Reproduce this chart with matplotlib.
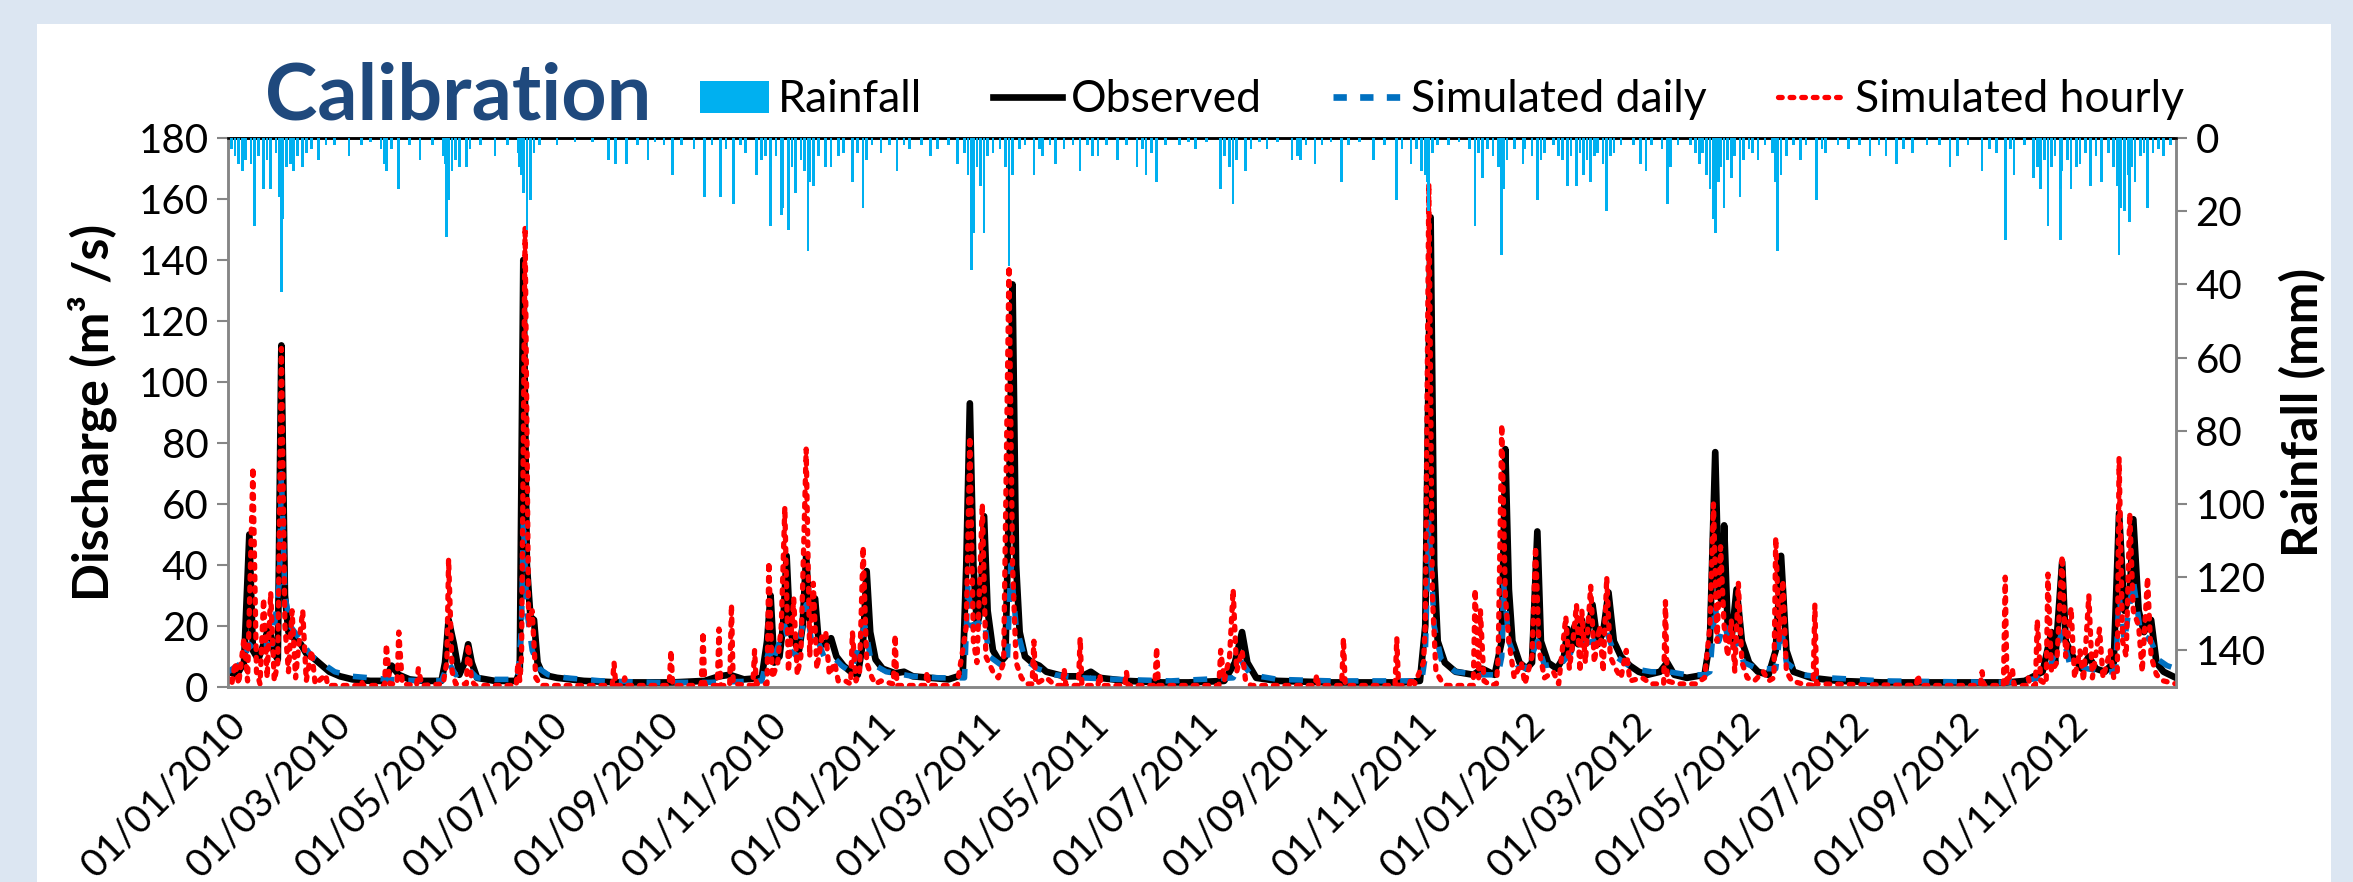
import matplotlib
matplotlib.use("Agg")
import matplotlib.pyplot as plt
import matplotlib.dates as mdates
import pandas as pd
from matplotlib.patches import Patch, Rectangle
from matplotlib.lines import Line2D

# days counted from 01/01/2010
START = "2010-01-01"

obs_day = [0, 5, 9, 12, 14, 17, 20, 23, 26, 28, 30, 32, 34, 37, 41, 44, 48, 52, 57, 63,
           70, 80, 88, 92, 96, 102, 110, 120, 122, 124, 127, 130, 133, 135, 137, 140, 150, 162, 164, 166,
           168, 170, 172, 174, 177, 185, 200, 220, 250, 268, 276, 282, 290, 300, 303, 305, 307, 310, 312, 314,
           316, 318, 321, 323, 325, 327, 330, 332, 335, 339, 342, 346, 350, 354, 357, 359, 361, 364,
           368, 375, 380, 385, 395, 405, 413, 415, 417, 419, 421, 423, 425, 427, 430, 434, 437, 439, 441, 443,
           445, 448, 452, 456, 460, 470, 480, 485, 490, 505, 525, 540, 560, 566, 570, 573, 578, 590, 620, 660,
           670, 673, 676, 678, 680, 684, 690, 700, 705, 712, 716, 718, 720, 722, 726, 730,
           733, 736, 738, 742, 747, 751, 753, 755, 757, 759, 761, 763, 765, 767, 770, 773, 776, 779, 783, 788,
           793, 798, 805, 809, 813, 820, 830, 833, 836, 838, 840, 841, 843, 845, 848, 851, 855, 860, 866, 870,
           873, 876, 880, 890, 905, 930, 970, 1000, 1010, 1020, 1025, 1027, 1031, 1033, 1037, 1042, 1046, 1050, 1055, 1060,
           1063, 1066, 1069, 1071, 1074, 1077, 1081, 1084, 1088, 1095]
obs_q = [5, 4, 8, 50, 12, 9, 14, 20, 11, 9, 112, 30, 18, 16, 14, 11, 9.5, 7.5, 5, 3.5,
         2.5, 2, 2, 7, 4, 2.5, 2, 2, 8, 22, 14, 4, 8, 14, 8, 3, 2, 2, 5, 140,
         40, 23, 22, 8, 4, 3, 2, 1.5, 1.5, 2, 3.5, 4, 2.5, 3, 15, 30, 8, 10, 20, 43,
         18, 15, 12, 20, 43, 22, 29, 15, 14, 16, 10, 7, 5, 4, 15, 38, 18, 9,
         6, 4.5, 5, 3.5, 3, 2.5, 4, 40, 93, 40, 20, 25, 56, 25, 12, 8, 10, 60, 132, 40,
         18, 10, 8, 7, 5, 3.5, 3.5, 5, 3, 2, 1.5, 1.5, 2, 8, 18, 8, 3, 2, 1.5, 1.5,
         2, 20, 154, 40, 15, 8, 5, 4, 6, 4, 15, 78, 32, 15, 8, 6,
         8, 51, 15, 8, 6, 10, 19, 12, 20, 14, 22, 15, 20, 27, 14, 18, 31, 15, 10, 7,
         5, 4, 5, 8, 4, 3, 4, 15, 77, 30, 28, 53, 20, 15, 32, 15, 8, 5, 4, 12,
         43, 12, 5, 3, 2, 1.5, 1.5, 1.5, 2, 5, 18, 8, 41, 15, 10, 6, 10, 6, 5, 8,
         57, 25, 30, 55, 25, 18, 22, 8, 5, 3]

simd_day = [0, 8, 12, 15, 20, 25, 29, 30, 32, 35, 40, 47, 55, 60, 70, 80, 90, 100, 120, 124,
            128, 135, 140, 150, 163, 165, 166, 168, 171, 175, 180, 190, 210, 240, 270, 300, 304, 306, 313, 316,
            320, 325, 328, 331, 335, 340, 345, 350, 358, 361, 364,
            370, 385, 400, 410, 414, 416, 418, 425, 428, 435, 438, 440, 443, 448, 455, 465, 480, 500, 530, 565,
            570, 575, 590, 620, 660, 671, 673, 675, 678, 682, 690, 705, 714, 716, 717, 720, 725, 730,
            736, 740, 750, 756, 762, 767, 775, 780, 790, 800, 810, 820, 830, 833, 836, 838, 841, 845, 848, 852,
            860, 870, 873, 876, 885, 900, 930, 1000, 1020, 1025, 1031, 1035, 1045, 1055, 1061, 1063, 1066, 1071, 1075, 1081,
            1085, 1090, 1095]
simd_q = [5, 8, 14, 12, 14, 14, 35, 70, 30, 20, 16, 10, 7, 5, 3.5, 3, 2.5, 2.2, 2, 8,
          4, 6, 3, 2.5, 2.5, 20, 55, 25, 12, 6, 4, 3, 2, 1.5, 1.5, 2, 12, 8, 20, 12,
          10, 27, 15, 16, 10, 10, 7, 5, 20, 10, 7,
          5, 3.5, 3, 3, 3, 34, 20, 22, 10, 7, 7, 40, 20, 9, 6, 4, 3, 2.5, 2, 3,
          8, 4, 2.5, 2, 2, 2, 10, 54, 20, 9, 5, 4, 4, 10, 34, 15, 7, 6,
          15, 7, 8, 12, 14, 15, 18, 10, 6, 5, 5, 4, 4, 5, 27, 15, 21, 12, 15, 8,
          6, 6, 20, 8, 4, 3, 2, 1.5, 3, 8, 18, 8, 6, 5, 5, 30, 15, 35, 18, 15,
          9, 7, 6]

simh_day = [0, 2, 4, 6, 9, 11, 14, 16, 18, 20, 22, 24, 26, 28, 30, 32, 34, 36, 38, 40,
            42, 44, 47, 49, 55, 56, 74, 75, 76, 88, 89, 91, 95, 96, 98, 106, 107, 109, 121, 122,
            123, 124, 126, 128, 134, 135, 137, 139, 162, 163, 164, 165, 167, 169, 171, 173, 176, 216, 217, 218,
            222, 223, 224, 248, 249, 250, 266, 267, 268, 275, 276, 277, 282, 283, 284, 295, 296, 297, 303, 304,
            306, 309, 311, 313, 315, 318, 320, 322, 325, 327, 329, 331, 334, 336, 338, 341, 343, 347, 350, 351,
            353, 355, 357, 359, 362, 364,
            367, 374, 375, 376, 392, 393, 394, 410, 411, 413, 415, 417, 419, 421, 424, 426, 430, 433, 436, 439,
            441, 443, 446, 449, 452, 453, 454, 460, 465, 469, 470, 471, 478, 479, 480, 489, 490, 491, 504, 505,
            506, 521, 522, 523, 557, 558, 560, 563, 565, 567, 570, 572, 575, 611, 612, 613, 626, 627, 628, 656,
            657, 658, 664, 665, 667, 672, 673, 675, 677, 679, 682, 685, 700, 701, 703, 704, 706, 710, 713, 714,
            716, 718, 720, 723, 727, 729,
            733, 735, 737, 740, 745, 748, 752, 754, 756, 758, 760, 761, 763, 766, 768, 771, 773, 775, 777, 780,
            783, 786, 788, 795, 800, 807, 808, 809, 815, 825, 830, 833, 835, 837, 839, 841, 843, 845, 847, 849,
            851, 854, 858, 863, 866, 869, 870, 872, 874, 876, 879, 885, 891, 892, 893, 949, 950, 951, 985, 986,
            987, 998, 999, 1000, 1003, 1004, 1011, 1012, 1013, 1016, 1017, 1019, 1022, 1023, 1025, 1028, 1031, 1033, 1036, 1038,
            1041, 1043, 1046, 1048, 1052, 1054, 1058, 1060, 1062, 1063, 1065, 1067, 1069, 1071, 1074, 1076, 1079, 1081, 1084, 1088,
            1095]
simh_q = [3, 0.5, 8, 1, 16, 2, 72, 5, 1, 29, 3, 31, 2, 8, 111, 20, 5, 25, 3, 15,
          25, 2, 12, 1, 4, 0.5, 0.5, 2, 0.5, 0.5, 14, 1, 1, 18, 1, 0.5, 6, 0.5, 1, 5,
          8, 42, 5, 1, 1, 14, 2, 0.5, 0.5, 8, 2, 10, 151, 20, 25, 3, 0.5, 0.5, 8, 0.5,
          0.5, 3, 0.5, 0.5, 12, 0.5, 0.5, 18, 0.5, 0.5, 19, 0.5, 0.5, 27, 1, 0.5, 12, 1, 1, 41,
          3, 8, 20, 59, 5, 29, 4, 10, 78, 10, 34, 6, 17, 18, 4, 8, 2, 2, 1, 18,
          2, 5, 46, 8, 3, 1,
          2, 1, 17, 0.5, 0.5, 5, 0.5, 0.5, 5, 12, 20, 82, 15, 8, 60, 10, 5, 3, 8, 138,
          40, 8, 3, 1, 1, 15, 1, 3, 0.5, 0.5, 6, 0.5, 0.5, 16, 0.5, 0.5, 4, 0.5, 0.5, 5,
          0.5, 0.5, 13, 0.5, 0.5, 12, 2, 10, 32, 5, 12, 2, 0.5, 0.5, 4, 0.5, 0.5, 16, 0.5, 0.5,
          16, 0.5, 0.5, 3, 1, 8, 20, 165, 30, 5, 2, 0.5, 0.5, 32, 3, 25, 2, 0.5, 1, 10,
          86, 30, 15, 3, 8, 1,
          10, 46, 12, 3, 5, 1, 23, 6, 15, 27, 5, 25, 8, 33, 8, 20, 5, 36, 10, 6,
          3, 12, 2, 3, 1, 1, 28, 2, 1, 1, 3, 20, 60, 15, 46, 20, 10, 22, 5, 34,
          8, 3, 2, 5, 2, 3, 49, 15, 35, 5, 2, 1, 0.5, 27, 1, 0.5, 4, 0.5, 0.5, 5,
          0.5, 0.5, 36, 1, 6, 0.5, 0.5, 3, 0.5, 0.5, 22, 2, 1, 37, 5, 8, 43, 10, 26, 3,
          12, 2, 30, 3, 19, 3, 12, 3, 5, 75, 15, 10, 57, 25, 20, 5, 36, 10, 4, 2,
          1]

rain_day = [2, 4, 6, 8, 10, 13, 15, 17, 20, 22, 24, 27, 29, 30, 31, 33, 35, 37, 39, 42,
            44, 47, 51, 55, 60, 68, 75, 80, 86, 88, 89, 92, 96, 102, 108, 115, 121, 122, 123, 124,
            126, 128, 130, 134, 136, 142, 150, 157, 163, 164, 165, 166, 168, 170, 172, 175, 185, 195, 205, 214,
            218, 224, 230, 236, 240, 245, 250, 255, 262, 268, 272, 277, 280, 284, 288, 291, 297, 300, 302, 305,
            308, 311, 312, 315, 317, 319, 322, 324, 326, 327, 329, 332, 336, 339, 343, 346, 351, 354, 357, 359, 362,
            367, 372, 376, 380, 383, 390, 395, 399, 405, 410, 414, 416, 418, 419, 421, 423, 425, 427, 430, 434,
            437, 439, 441, 445, 448, 453, 456, 458, 462, 465, 470, 475, 479, 483, 486, 489, 494, 500, 505, 511,
            514, 516, 519, 522, 527, 535, 540, 544, 550, 558, 560, 563, 565, 567, 572, 575, 580, 584, 590, 598,
            601, 603, 606, 611, 615, 620, 626, 630, 636, 644, 650, 657, 660, 665, 668, 671, 673, 674, 675, 677,
            680, 686, 692, 698, 701, 703, 705, 708, 711, 714, 716, 717, 719, 723, 728, 729,
            733, 736, 738, 740, 745, 748, 750, 753, 755, 758, 760, 762, 764, 766, 768, 770, 773, 775, 777, 779,
            783, 790, 794, 797, 800, 806, 809, 811, 815, 822, 825, 827, 829, 831, 833, 835, 836, 838, 839, 841,
            843, 845, 847, 850, 852, 855, 857, 860, 864, 868, 870, 871, 873, 876, 880, 884, 887, 893, 896, 898,
            905, 911, 917, 923, 928, 932, 938, 942, 947, 955, 962, 968, 972, 978, 986, 990, 994, 999, 1002, 1004,
            1010, 1015, 1017, 1019, 1021, 1023, 1025, 1027, 1030, 1031, 1034, 1036, 1039, 1041, 1044, 1047, 1050, 1053, 1057, 1060,
            1062, 1063, 1064, 1066, 1068, 1069, 1070, 1072, 1075, 1077, 1079, 1082, 1085, 1088, 1092]
rain_mm = [3, 5, 7, 9, 6, 7, 24, 5, 14, 6, 14, 4, 16, 42, 22, 8, 7, 9, 5, 8,
           4, 3, 6, 2, 2, 5, 2, 1, 3, 7, 9, 3, 14, 2, 6, 2, 5, 7, 27, 17,
           9, 6, 8, 8, 3, 2, 5, 2, 4, 8, 10, 15, 25, 17, 4, 2, 2, 1, 1, 6,
           7, 7, 2, 6, 1, 2, 10, 2, 3, 16, 2, 16, 3, 18, 2, 4, 10, 6, 5, 24,
           5, 21, 19, 25, 8, 15, 6, 9, 31, 12, 13, 5, 8, 8, 5, 4, 12, 4, 19, 6, 2,
           4, 2, 9, 2, 3, 2, 5, 3, 2, 7, 4, 10, 36, 26, 8, 13, 26, 5, 4, 3,
           8, 35, 10, 3, 2, 10, 3, 5, 2, 7, 3, 2, 9, 2, 5, 5, 2, 6, 2, 8,
           3, 10, 4, 12, 2, 2, 1, 3, 1, 14, 5, 8, 18, 6, 9, 3, 1, 3, 1, 6,
           5, 6, 2, 7, 2, 1, 12, 2, 1, 6, 2, 17, 3, 7, 3, 9, 10, 12, 20, 4,
           2, 2, 1, 3, 24, 4, 11, 3, 5, 8, 32, 14, 6, 3, 7, 3,
           5, 17, 6, 4, 2, 5, 6, 13, 5, 13, 4, 10, 6, 12, 5, 4, 7, 20, 5, 4,
           2, 2, 7, 9, 2, 3, 18, 8, 2, 2, 4, 7, 4, 10, 14, 22, 26, 12, 8, 19,
           6, 11, 5, 16, 6, 3, 4, 6, 2, 4, 12, 31, 10, 5, 2, 6, 2, 17, 3, 4,
           2, 3, 2, 5, 2, 5, 7, 3, 4, 2, 2, 8, 5, 2, 9, 3, 4, 28, 3, 10,
           2, 11, 8, 14, 6, 24, 8, 5, 28, 9, 6, 14, 8, 7, 4, 13, 5, 12, 4, 8,
           13, 32, 19, 20, 10, 23, 8, 12, 5, 4, 19, 4, 3, 5, 2]

tick_dates = pd.date_range("2010-01-01", "2012-11-01", freq="2MS")


def to_dates(days):
    return pd.Timestamp(START) + pd.to_timedelta(days, unit="D")


plt.rcParams["font.family"] = ["Lato", "DejaVu Sans"]
GREY = "#868686"

fig = plt.figure(figsize=(23.53, 8.82), dpi=100, facecolor="#DCE6F2")
fig.add_artist(Rectangle((37 / 2353, 0), (2331 - 37) / 2353, 1 - 24 / 882,
                         transform=fig.transFigure, facecolor="white", edgecolor="none", zorder=0))

ax = fig.add_axes([228 / 2353, 1 - 687 / 882, 1948 / 2353, 549 / 882])
ax.plot(to_dates(obs_day), obs_q, color="black", lw=4.8, zorder=2)
ax.plot(to_dates(simd_day), simd_q, color="#0070C0", lw=4.0, dashes=(2.5, 2.5), zorder=3)
ax.plot(to_dates(simh_day), simh_q, color="#FF0000", lw=3.8, dashes=(0.7, 1.5),
        dash_capstyle="round", zorder=4)

ax.set_ylim(0, 180)
ax.set_yticks(range(0, 181, 20))
ax.set_xlim(pd.Timestamp("2010-01-01"), pd.Timestamp("2012-12-31"))
ax.set_xticks(tick_dates)
ax.xaxis.set_major_formatter(mdates.DateFormatter("%d/%m/%Y"))
for lab in ax.get_xticklabels():
    lab.set_rotation(45)
    lab.set_ha("right")
    lab.set_rotation_mode("anchor")
ax.tick_params(axis="x", length=0, labelsize=28, pad=14)
ax.tick_params(axis="y", length=8, width=1.5, color=GREY, labelsize=29, pad=6)
ax.set_ylabel("Discharge (m³ /s)", fontsize=36, fontweight="bold")
ax.yaxis.set_label_coords(-0.057, 0.5)

ax2 = ax.twinx()
ax2.bar(to_dates(rain_day), rain_mm, width=1.5, color="#00B0F0", linewidth=0, zorder=3)
ax2.set_ylim(150, 0)
ax2.set_yticks(range(0, 141, 20))
ax2.tick_params(axis="y", length=8, width=1.5, color=GREY, labelsize=29, pad=6)
ax2.set_ylabel("Rainfall (mm)", fontsize=36, fontweight="bold")
ax2.yaxis.set_label_coords(1.053, 0.5)

for a in (ax, ax2):
    a.spines["left"].set_color(GREY)
    a.spines["right"].set_color(GREY)
    a.spines["bottom"].set_color(GREY)
    a.spines["top"].set_color("black")
    for s in a.spines.values():
        s.set_linewidth(1.8)

fig.text(265 / 2353, 1 - 120 / 882, "Calibration", fontsize=57, fontweight="bold",
         color="#1F497D", va="baseline")

handles = [Patch(facecolor="#00B0F0"),
           Line2D([], [], color="black", lw=4.8),
           Line2D([], [], color="#0070C0", lw=4.8, dashes=(2.0, 2.0)),
           Line2D([], [], color="#FF0000", lw=3.8, dashes=(0.7, 1.5), dash_capstyle="round")]
labels = ["Rainfall", "Observed", "Simulated daily", "Simulated hourly"]
fig.legend(handles, labels, loc="center left", bbox_to_anchor=(700 / 2353, 1 - 100 / 882),
           ncol=4, frameon=False, fontsize=32, handlelength=1.55, handleheight=0.7,
           handletextpad=0.2, columnspacing=1.6, borderpad=0, borderaxespad=0)

fig.savefig("out.png", dpi=100, facecolor=fig.get_facecolor())
